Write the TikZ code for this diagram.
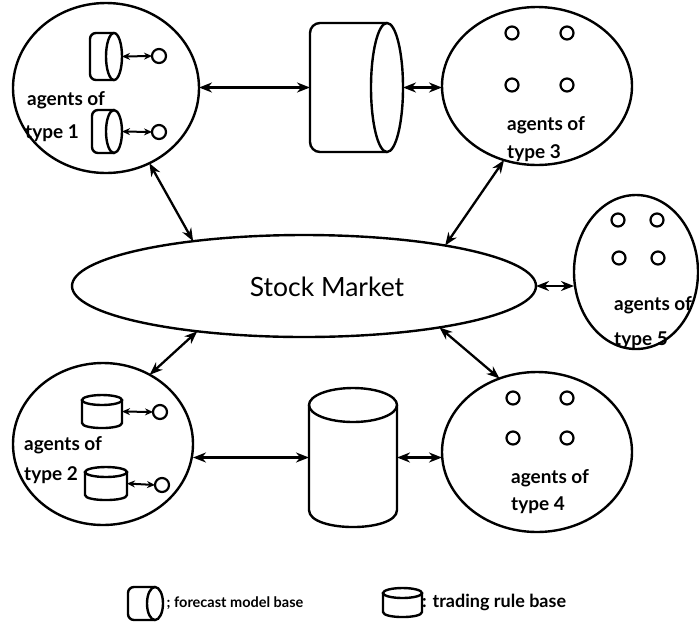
\documentclass[tikz,border=0pt]{standalone}
\usepackage{fontspec}
\setmainfont{Lato}
\usetikzlibrary{shapes.geometric,arrows.meta}
\begin{document}
\begin{tikzpicture}[x=1pt,y=-1pt,
  ln/.style={line width=2.4pt},
  ell/.style={ellipse, draw, line width=2.4pt, inner sep=0pt, outer sep=0pt},
  box/.style={rectangle, inner sep=0pt, outer sep=0pt},
  ag/.style={circle, draw, line width=2.2pt, minimum size=13pt, inner sep=0pt, outer sep=0pt},
  con/.style={line width=2.3pt, {Stealth[length=13pt,width=10pt]}-{Stealth[length=13pt,width=10pt]}},
  scon/.style={line width=2pt, {Stealth[length=8pt,width=7pt]}-{Stealth[length=8pt,width=7pt]}},
  lab/.style={font=\fontsize{19}{19}\selectfont\bfseries, anchor=west, inner sep=0pt},
  leg/.style={font=\fontsize{14.5}{14.5}\selectfont\bfseries, anchor=west, inner sep=0pt}]
\useasboundingbox (0,0) rectangle (699,633);

% ---- big ellipses
\node[ell, minimum width=186pt, minimum height=170pt] (e1) at (106,88) {};
\node[ell, minimum width=180pt, minimum height=162pt] (e2) at (103,444) {};
\node[ell, minimum width=190pt, minimum height=158pt] (e3) at (537,86) {};
\node[ell, minimum width=190pt, minimum height=160pt] (e4) at (537,452) {};
\node[ell, minimum width=124pt, minimum height=154pt] (e5) at (636,272) {};
\node[ell, minimum width=464pt, minimum height=102pt] (sm) at (304,286) {};
\node[font=\fontsize{26.5}{26.5}\selectfont, inner sep=0pt] (smt) at (327,287) {Stock Market};

% ---- top forecast cylinder
\node[box, minimum width=93pt, minimum height=129pt] (ct) at (356.5,87.5) {};
\draw[ln, rounded corners=10pt] (387,23) -- (310,23) -- (310,152) -- (387,152);
\draw[ln] (387,87.5) ellipse [x radius=16pt, y radius=64.5pt];

% ---- bottom trading cylinder
\node[box, minimum width=88pt, minimum height=139pt] (cb) at (353,457.5) {};
\draw[ln] (353,405) ellipse [x radius=44pt, y radius=17pt];
\draw[ln] (309,405) -- (309,510) .. controls (309,532.7) and (397,532.7) .. (397,510) -- (397,405);

% ---- type 1 agents: forecast cylinders
\node[box, minimum width=32pt, minimum height=47pt] (c1a) at (106,56.5) {};
\draw[ln, rounded corners=6pt] (114,33) -- (90,33) -- (90,80) -- (114,80);
\draw[ln] (114,56.5) ellipse [x radius=8pt, y radius=23.5pt];
\node[box, minimum width=30pt, minimum height=43pt] (c1b) at (107,131.5) {};
\draw[ln, rounded corners=6pt] (114,110) -- (92,110) -- (92,153) -- (114,153);
\draw[ln] (114,131.5) ellipse [x radius=8pt, y radius=21.5pt];
\node[ag, minimum size=14pt] (o1a) at (159,56) {};
\node[ag, minimum size=14pt] (o1b) at (159,132) {};
\draw[scon] (c1a.east) -- (o1a.west);
\draw[scon] (c1b.east) -- (o1b.west);
\node[lab] (t1a) at (27,100) {agents of};
\node[lab] (t1b) at (25,133) {type 1};

% ---- type 2 agents: trading cylinders
\node[box, minimum width=40pt, minimum height=33pt] (c2a) at (102,411.5) {};
\draw[ln] (102,400) ellipse [x radius=20pt, y radius=5pt];
\draw[ln] (82,400) -- (82,423) .. controls (82,429.7) and (122,429.7) .. (122,423) -- (122,400);
\node[box, minimum width=42pt, minimum height=33pt] (c2b) at (106,483.5) {};
\draw[ln] (106,472) ellipse [x radius=21pt, y radius=5pt];
\draw[ln] (85,472) -- (85,495) .. controls (85,501.7) and (127,501.7) .. (127,495) -- (127,472);
\node[ag, minimum size=14pt] (o2a) at (160,412) {};
\node[ag, minimum size=14pt] (o2b) at (162,485) {};
\draw[scon] (c2a.east) -- (o2a.west);
\draw[scon] (c2b.east) -- (o2b.west);
\node[lab] (t2a) at (24,445) {agents of};
\node[lab] (t2b) at (24,475) {type 2};

% ---- type 3 agents
\node[ag] (a31) at (512,33) {};
\node[ag] (a32) at (567,33) {};
\node[ag] (a33) at (512,85) {};
\node[ag] (a34) at (567,85) {};
\node[lab] (t3a) at (507,125) {agents of};
\node[lab] (t3b) at (507,153) {type 3};

% ---- type 4 agents
\node[ag] (a41) at (513,398) {};
\node[ag] (a42) at (567,398) {};
\node[ag] (a43) at (513,438) {};
\node[ag] (a44) at (567,438) {};
\node[lab] (t4a) at (511,478) {agents of};
\node[lab] (t4b) at (511,505) {type 4};

% ---- type 5 agents
\node[ag] (a51) at (618,220) {};
\node[ag] (a52) at (657,220) {};
\node[ag] (a53) at (619,258) {};
\node[ag] (a54) at (658,258) {};
\node[lab] (t5a) at (614,305) {agents of};
\node[lab] (t5b) at (614,340) {type 5};

% ---- connectors
\draw[con] (e1.east |- ct.west) -- (ct.west);
\draw[con] (ct.east) -- (ct.east -| e3.west);
\draw[con] (e1.-60) -- (sm.158);
\draw[con] (e3.-114) -- (sm.16);
\draw[con] (sm.east) -- (sm.east -| e5.west);
\draw[con] (sm.-157) -- (e2.56);
\draw[con] (sm.-17) -- (e4.117);
\draw[con] (cb.west -| e2.east) -- (cb.west);
\draw[con] (cb.east) -- (cb.east -| e4.west);

% ---- legend
\node[box, minimum width=35pt, minimum height=33pt] (lf) at (145.5,603.5) {};
\draw[ln, rounded corners=6pt] (155,587) -- (128,587) -- (128,620) -- (155,620);
\draw[ln] (155,603.5) ellipse [x radius=8pt, y radius=16.5pt];
\node[leg] (lft) at (lf.east) {~; forecast model base};
\node[box, minimum width=39pt, minimum height=29pt] (lt) at (402.5,602.5) {};
\draw[ln] (402.5,593) ellipse [x radius=19.5pt, y radius=5pt];
\draw[ln] (383,593) -- (383,612) .. controls (383,618.7) and (422,618.7) .. (422,612) -- (422,593);
\node[leg, font=\fontsize{18}{18}\selectfont\bfseries] (ltt) at (lt.east) {: trading rule base};
\end{tikzpicture}
\end{document}
